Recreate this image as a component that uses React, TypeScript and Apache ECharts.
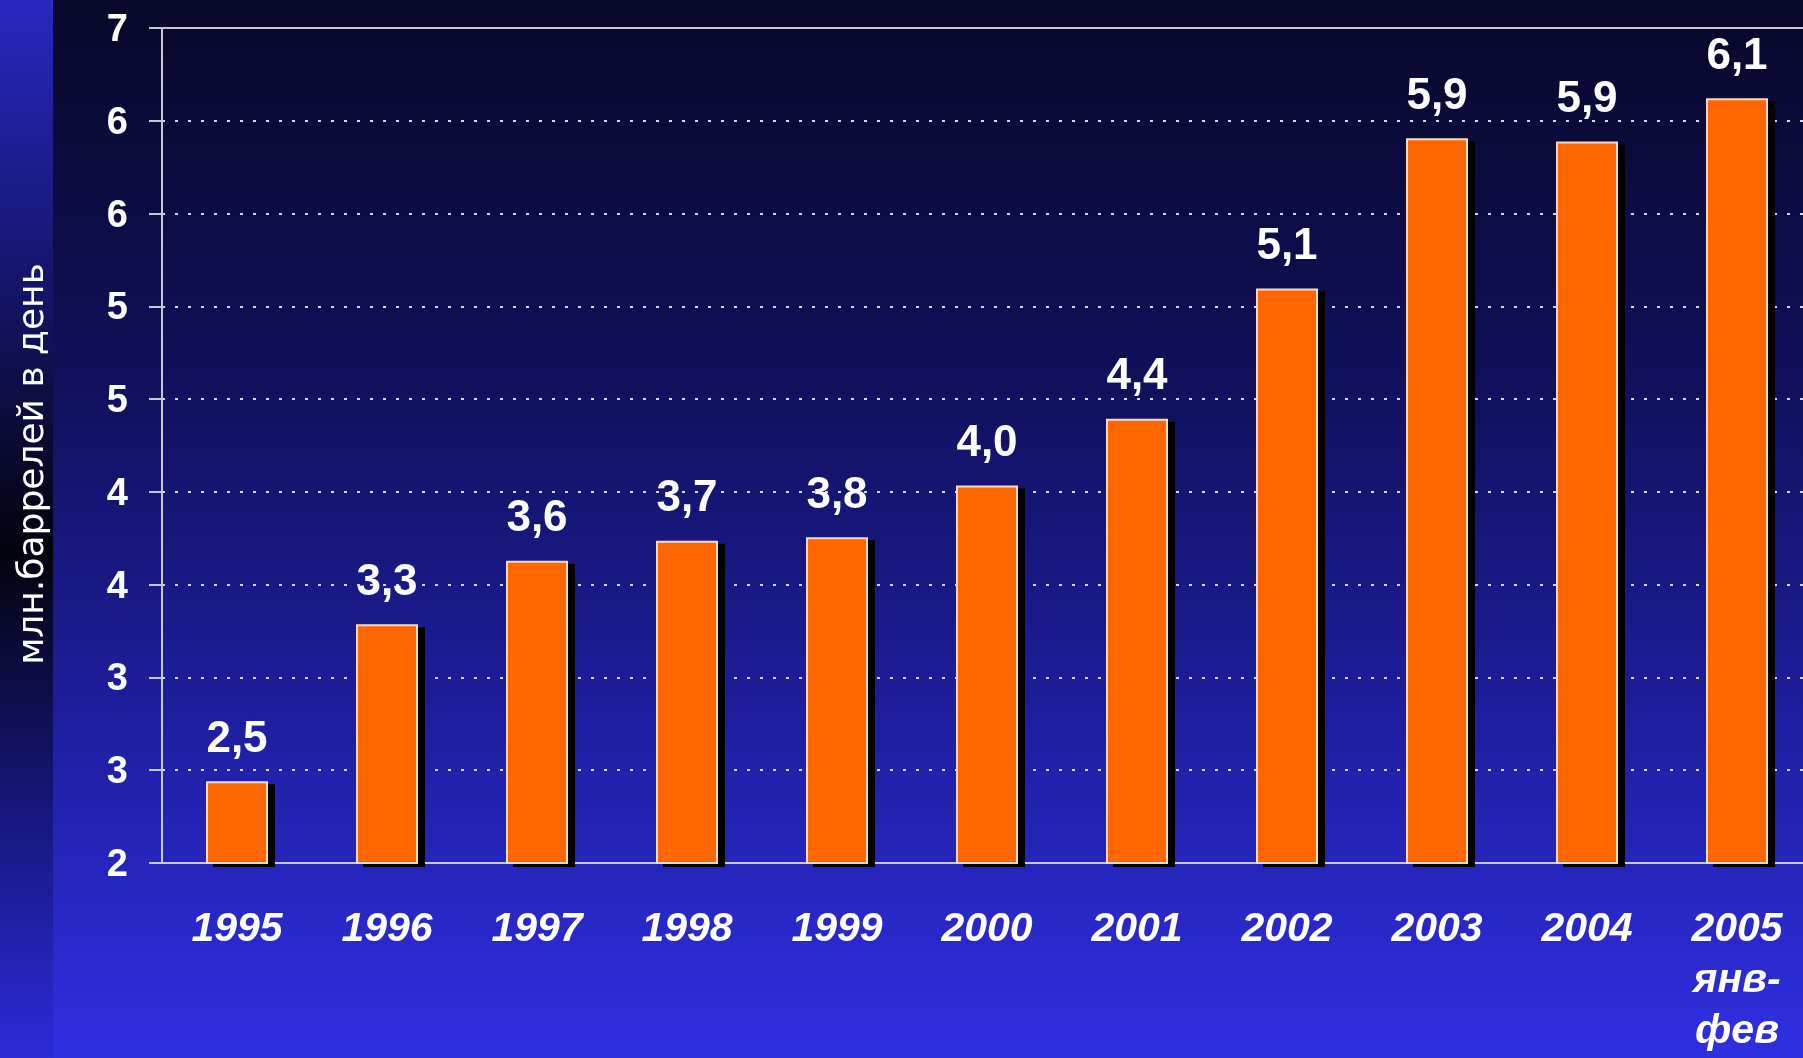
import React, { useEffect, useRef } from "react";
import * as echarts from "echarts";

// Categories (years)
const categories = ["1995", "1996", "1997", "1998", "1999", "2000", "2001", "2002", "2003", "2004", "2005\nянв-\nфев"];
// Bar heights as drawn against the axis
const barHeights = [2.49, 3.43, 3.81, 3.93, 3.95, 4.26, 4.66, 5.44, 6.34, 6.32, 6.58];
// Values printed above the bars
const reportedValues = [2.5, 3.3, 3.6, 3.7, 3.8, 4.0, 4.4, 5.1, 5.9, 5.9, 6.1];
// Axis range / steps
const axisMin = 2;
const axisMax = 7;
const axisSteps = 9;
const axisTitle = "млн.баррелей в день";

export default function App() {
  const ref = useRef<HTMLDivElement>(null);
  useEffect(() => {
    if (!ref.current) return;
    const chart = echarts.init(ref.current, null, { renderer: "svg" });
    const W = 1812;
    const H = 1058;
    const option: any = {
      animation: false,
      graphic: {
        elements: [
          {
            type: "rect",
            z: -100,
            silent: true,
            shape: { x: 0, y: 0, width: W, height: H },
            style: {
              fill: new echarts.graphic.LinearGradient(0, 0, 0, 1, [
                { offset: 0, color: "#08082a" },
                { offset: 0.35, color: "#10105a" },
                { offset: 0.7, color: "#1f1fa4" },
                { offset: 1, color: "#2f2fe2" },
              ]),
            },
          },
          {
            type: "rect",
            z: -99,
            silent: true,
            shape: { x: 0, y: 0, width: 53, height: H },
            style: {
              fill: new echarts.graphic.LinearGradient(0, 0, 0, 1, [
                { offset: 0, color: "#2828c0" },
                { offset: 0.28, color: "#141466" },
                { offset: 0.52, color: "#03030e" },
                { offset: 0.76, color: "#16167a" },
                { offset: 1, color: "#2b2bd8" },
              ]),
            },
          },
          {
            type: "text",
            z: 100,
            x: 30,
            y: 464,
            rotation: Math.PI / 2,
            style: {
              text: axisTitle,
              fill: "#ffffff",
              fontSize: 36,
              fontFamily: "DejaVu Sans",
              align: "center",
              verticalAlign: "middle",
            },
          },
        ],
      },
      grid: { left: 162, right: 0, top: 28, bottom: 195, containLabel: false, outerBoundsMode: "none" },
      xAxis: [
        {
          type: "category",
          data: categories,
          position: "bottom",
          axisLine: { show: true, lineStyle: { color: "#c8c8d0", width: 2 } },
          axisTick: { show: false },
          axisLabel: {
            interval: 0,
            color: "#ffffff",
            fontSize: 41,
            fontWeight: "bold",
            fontStyle: "italic",
            fontFamily: "Liberation Sans",
            lineHeight: 51,
            margin: 38,
          },
        },
        {
          type: "category",
          data: categories,
          position: "top",
          axisLine: { show: true, lineStyle: { color: "#c8c8d0", width: 2 } },
          axisTick: { show: false },
          axisLabel: { show: false },
        },
      ],
      yAxis: {
        type: "value",
        min: axisMin,
        max: axisMax,
        interval: (axisMax - axisMin) / axisSteps,
        axisLine: { show: true, lineStyle: { color: "#c8c8d0", width: 2 } },
        axisTick: { show: true, length: 13, lineStyle: { color: "#c8c8d0", width: 2 } },
        axisLabel: {
          color: "#ffffff",
          fontSize: 38,
          fontWeight: "bold",
          fontFamily: "Liberation Sans",
          margin: 34,
          formatter: (v: number) => String(Math.round(v)),
        },
        splitLine: {
          show: true,
          lineStyle: { color: "#d8d8e8", width: 2, type: [3, 10] },
        },
      },
      series: [
        {
          type: "bar",
          xAxisIndex: 0,
          data: barHeights,
          barWidth: 62,
          itemStyle: {
            color: "#ff6600",
            borderColor: "#f3dcc4",
            borderWidth: 2,
            shadowColor: "#000000",
            shadowOffsetX: 7,
            shadowOffsetY: 3,
            shadowBlur: 0,
          },
          label: {
            show: true,
            position: "top",
            distance: 23,
            color: "#ffffff",
            fontSize: 44,
            fontWeight: "bold",
            fontFamily: "Liberation Sans",
            formatter: (p: any) => reportedValues[p.dataIndex].toFixed(1).replace(".", ","),
          },
        },
      ],
    };
    chart.setOption(option);
    return () => chart.dispose();
  }, []);
  return (
    <div
      style={{ position: "fixed", left: 0, top: 0, width: "1803px", height: "1058px", overflow: "hidden" }}
    >
      <div ref={ref} style={{ width: "1812px", height: "1058px" }} />
    </div>
  );
}
